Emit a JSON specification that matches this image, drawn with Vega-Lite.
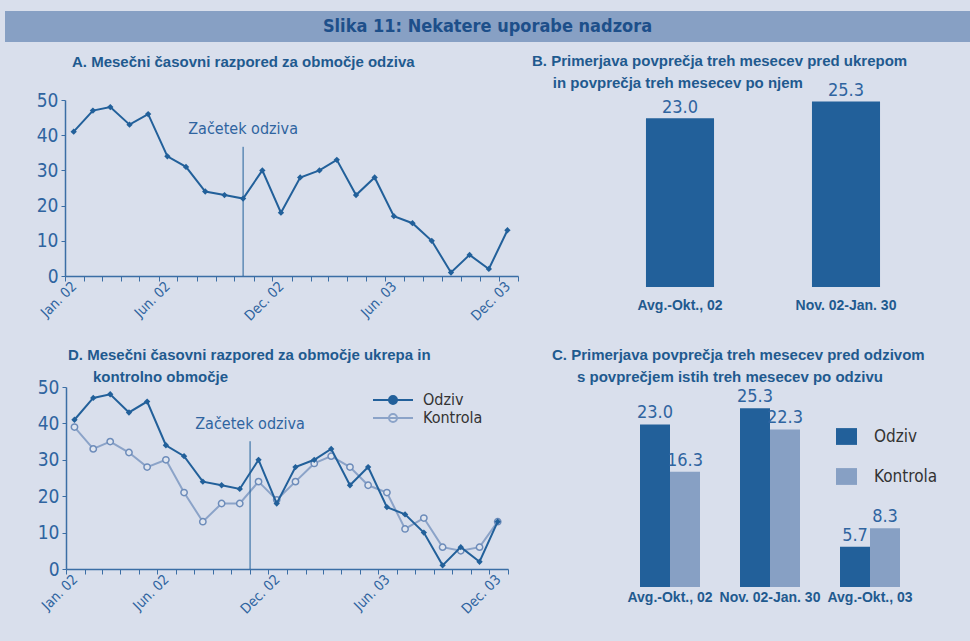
{
  "$schema": "https://vega.github.io/schema/vega-lite/v6.json",
  "background": "#d9dfec",
  "padding": {"left": 5, "top": 11, "right": 0, "bottom": 25},
  "datasets": {
    "ts": [
      {"month": "2002-01-15", "series": "Odziv", "value": 41},
      {"month": "2002-02-15", "series": "Odziv", "value": 47},
      {"month": "2002-03-15", "series": "Odziv", "value": 48},
      {"month": "2002-04-15", "series": "Odziv", "value": 43},
      {"month": "2002-05-15", "series": "Odziv", "value": 46},
      {"month": "2002-06-15", "series": "Odziv", "value": 34},
      {"month": "2002-07-15", "series": "Odziv", "value": 31},
      {"month": "2002-08-15", "series": "Odziv", "value": 24},
      {"month": "2002-09-15", "series": "Odziv", "value": 23},
      {"month": "2002-10-15", "series": "Odziv", "value": 22},
      {"month": "2002-11-15", "series": "Odziv", "value": 30},
      {"month": "2002-12-15", "series": "Odziv", "value": 18},
      {"month": "2003-01-15", "series": "Odziv", "value": 28},
      {"month": "2003-02-15", "series": "Odziv", "value": 30},
      {"month": "2003-03-15", "series": "Odziv", "value": 33},
      {"month": "2003-04-15", "series": "Odziv", "value": 23},
      {"month": "2003-05-15", "series": "Odziv", "value": 28},
      {"month": "2003-06-15", "series": "Odziv", "value": 17},
      {"month": "2003-07-15", "series": "Odziv", "value": 15},
      {"month": "2003-08-15", "series": "Odziv", "value": 10},
      {"month": "2003-09-15", "series": "Odziv", "value": 1},
      {"month": "2003-10-15", "series": "Odziv", "value": 6},
      {"month": "2003-11-15", "series": "Odziv", "value": 2},
      {"month": "2003-12-15", "series": "Odziv", "value": 13},
      {"month": "2002-01-15", "series": "Kontrola", "value": 39},
      {"month": "2002-02-15", "series": "Kontrola", "value": 33},
      {"month": "2002-03-15", "series": "Kontrola", "value": 35},
      {"month": "2002-04-15", "series": "Kontrola", "value": 32},
      {"month": "2002-05-15", "series": "Kontrola", "value": 28},
      {"month": "2002-06-15", "series": "Kontrola", "value": 30},
      {"month": "2002-07-15", "series": "Kontrola", "value": 21},
      {"month": "2002-08-15", "series": "Kontrola", "value": 13},
      {"month": "2002-09-15", "series": "Kontrola", "value": 18},
      {"month": "2002-10-15", "series": "Kontrola", "value": 18},
      {"month": "2002-11-15", "series": "Kontrola", "value": 24},
      {"month": "2002-12-15", "series": "Kontrola", "value": 19},
      {"month": "2003-01-15", "series": "Kontrola", "value": 24},
      {"month": "2003-02-15", "series": "Kontrola", "value": 29},
      {"month": "2003-03-15", "series": "Kontrola", "value": 31},
      {"month": "2003-04-15", "series": "Kontrola", "value": 28},
      {"month": "2003-05-15", "series": "Kontrola", "value": 23},
      {"month": "2003-06-15", "series": "Kontrola", "value": 21},
      {"month": "2003-07-15", "series": "Kontrola", "value": 11},
      {"month": "2003-08-15", "series": "Kontrola", "value": 14},
      {"month": "2003-09-15", "series": "Kontrola", "value": 6},
      {"month": "2003-10-15", "series": "Kontrola", "value": 5},
      {"month": "2003-11-15", "series": "Kontrola", "value": 6},
      {"month": "2003-12-15", "series": "Kontrola", "value": 13}
    ],
    "b": [
      {"period": "Avg.-Okt., 02", "value": 23.0},
      {"period": "Nov. 02-Jan. 30", "value": 25.3}
    ],
    "c": [
      {"period": "Avg.-Okt., 02", "series": "Odziv", "value": 23.0},
      {"period": "Avg.-Okt., 02", "series": "Kontrola", "value": 16.3},
      {"period": "Nov. 02-Jan. 30", "series": "Odziv", "value": 25.3},
      {"period": "Nov. 02-Jan. 30", "series": "Kontrola", "value": 22.3},
      {"period": "Avg.-Okt., 03", "series": "Odziv", "value": 5.7},
      {"period": "Avg.-Okt., 03", "series": "Kontrola", "value": 8.3}
    ]
  },
  "config": {
    "view": {"stroke": null},
    "axis": {
      "grid": false,
      "domainColor": "#3b6ea5",
      "tickColor": "#3b6ea5",
      "labelColor": "#2f64a0",
      "labelFont": "Liberation Sans Narrow, DejaVu Sans Condensed, Liberation Sans"
    },
    "title": {
      "anchor": "start",
      "frame": "group",
      "font": "Liberation Sans",
      "fontSize": 15,
      "fontWeight": "bold",
      "color": "#1f5a8f",
      "lineHeight": 22
    }
  },
  "spacing": 12,
  "columns": 1,
  "align": "none",
  "resolve": {
    "scale": {"color": "independent", "fill": "independent", "stroke": "independent"},
    "legend": {"color": "independent", "fill": "independent", "stroke": "independent"}
  },
  "concat": [
    {
      "width": 965,
      "height": 31,
      "view": {"fill": "#87a0c4", "stroke": null},
      "data": {"values": [{"t": "Slika 11: Nekatere uporabe nadzora"}]},
      "mark": {"type": "text", "font": "Liberation Sans Narrow, DejaVu Sans Condensed, Liberation Sans", "fontSize": 18, "fontWeight": "bold", "color": "#1d4f8a"},
      "encoding": {"text": {"field": "t"}}
    },
    {
      "spacing": 24,
      "resolve": {
        "scale": {"color": "independent", "fill": "independent", "stroke": "independent"},
        "legend": {"color": "independent", "fill": "independent", "stroke": "independent"}
      },
      "vconcat": [
        {
          "spacing": 0,
          "hconcat": [
            {
              "width": 513,
              "height": 176,
              "title": {"text": "A. Mesečni časovni razpored za območje odziva", "dx": 67, "offset": 21},
              "layer": [
                {
                  "data": {"name": "ts"},
                  "transform": [{"filter": "datum.series == 'Odziv'"}],
                  "encoding": {
                    "x": {"field": "month", "type": "temporal",
                      "scale": {"type": "utc", "range": [60, 513], "domain": [{"year": 2002, "month": 1, "date": 1, "utc": true}, {"year": 2004, "month": 1, "date": 1, "utc": true}]},
                      "axis": {"title": null, "tickCount": {"interval": "month", "step": 1},
                        "labelExpr": "indexof(['2002-01','2002-06','2002-12','2003-06','2003-12'], utcFormat(datum.value, '%Y-%m')) >= 0 ? utcFormat(datum.value, '%b. %y') : ''",
                        "labelAngle": -45, "labelAlign": "right", "labelBaseline": "middle", "labelOffset": 9,
                        "labelFontSize": 14, "labelOverlap": false, "labelFlush": false, "tickSize": 5, "labelPadding": 3, "domainWidth": 1.5}},
                    "y": {"field": "value", "type": "quantitative", "scale": {"domain": [0, 50], "nice": false},
                      "axis": {"title": null, "offset": -60, "values": [0, 10, 20, 30, 40, 50], "tickCount": 6, "labelOverlap": false, "labelFlush": false, "labelFontSize": 19, "tickSize": 4, "labelPadding": 3, "domainWidth": 1.5}}
                  },
                  "layer": [
                    {"mark": {"type": "line", "color": "#22609a", "strokeWidth": 2}},
                    {"mark": {"type": "point", "shape": "diamond", "filled": true, "color": "#22609a", "size": 40, "opacity": 1}}
                  ]
                },
                {
                  "data": {"values": [{}]},
                  "mark": {"type": "rule", "color": "#22609a", "strokeWidth": 1},
                  "encoding": {
                    "x": {"datum": {"year": 2002, "month": 10, "date": 15, "utc": true}, "type": "temporal",
                      "axis": {"title": null, "tickCount": {"interval": "month", "step": 1},
                        "labelExpr": "indexof(['2002-01','2002-06','2002-12','2003-06','2003-12'], utcFormat(datum.value, '%Y-%m')) >= 0 ? utcFormat(datum.value, '%b. %y') : ''",
                        "labelAngle": -45, "labelAlign": "right", "labelBaseline": "middle", "labelOffset": 9,
                        "labelFontSize": 14, "labelOverlap": false, "labelFlush": false, "tickSize": 5, "labelPadding": 3, "domainWidth": 1.5}},
                    "y": {"datum": 0,
                      "axis": {"title": null, "offset": -60, "values": [0, 10, 20, 30, 40, 50], "tickCount": 6, "labelOverlap": false, "labelFlush": false, "labelFontSize": 19, "tickSize": 4, "labelPadding": 3, "domainWidth": 1.5}},
                    "y2": {"datum": 36.7}
                  }
                },
                {
                  "data": {"values": [{}]},
                  "mark": {"type": "text", "font": "Liberation Sans Narrow, DejaVu Sans Condensed, Liberation Sans", "fontSize": 16, "color": "#2f64a0"},
                  "encoding": {
                    "x": {"datum": {"year": 2002, "month": 10, "date": 15, "utc": true}, "type": "temporal",
                      "axis": {"title": null, "tickCount": {"interval": "month", "step": 1},
                        "labelExpr": "indexof(['2002-01','2002-06','2002-12','2003-06','2003-12'], utcFormat(datum.value, '%Y-%m')) >= 0 ? utcFormat(datum.value, '%b. %y') : ''",
                        "labelAngle": -45, "labelAlign": "right", "labelBaseline": "middle", "labelOffset": 9,
                        "labelFontSize": 14, "labelOverlap": false, "labelFlush": false, "tickSize": 5, "labelPadding": 3, "domainWidth": 1.5}},
                    "y": {"datum": 41.7,
                      "axis": {"title": null, "offset": -60, "values": [0, 10, 20, 30, 40, 50], "tickCount": 6, "labelOverlap": false, "labelFlush": false, "labelFontSize": 19, "tickSize": 4, "labelPadding": 3, "domainWidth": 1.5}},
                    "text": {"value": "Začetek odziva"}
                  }
                }
              ]
            },
            {
              "width": 332,
              "height": 187,
              "title": {"text": ["B. Primerjava povprečja treh mesecev pred ukrepom", "\u200b\u00a0\u00a0\u00a0\u00a0\u00a0in povprečja treh mesecev po njem"], "dx": -65, "offset": -9},
              "data": {"name": "b"},
              "encoding": {
                "x": {"field": "period", "type": "nominal", "sort": null,
                  "scale": {"paddingInner": 0.59, "paddingOuter": 0.295},
                  "axis": {"title": null, "domain": false, "ticks": false, "labelAngle": 0, "labelFont": "Liberation Sans", "labelFontWeight": "bold", "labelFontSize": 14, "labelColor": "#1f5a8f", "labelPadding": 11, "labelOverlap": false}},
                "y": {"field": "value", "type": "quantitative", "scale": {"domain": [0, 25.5], "nice": false}, "axis": null}
              },
              "layer": [
                {"mark": {"type": "bar", "color": "#22609a"}},
                {"mark": {"type": "text", "baseline": "bottom", "dy": -1, "font": "Liberation Sans Narrow, DejaVu Sans Condensed, Liberation Sans", "fontSize": 18, "color": "#2f64a0"},
                  "encoding": {"text": {"field": "value", "type": "quantitative", "format": ".1f"}}}
              ]
            }
          ]
        },
        {
          "spacing": 30,
          "resolve": {
            "scale": {"color": "independent", "fill": "independent", "stroke": "independent"},
            "legend": {"color": "independent", "fill": "independent", "stroke": "independent"}
          },
          "hconcat": [
            {
              "width": 503,
              "height": 182,
              "title": {"text": ["D. Mesečni časovni razpored za območje ukrepa in", "\u200b\u00a0\u00a0\u00a0\u00a0\u00a0\u00a0kontrolno območje"], "dx": 63, "offset": -7},
              "layer": [
                {
                  "data": {"name": "ts"},
                  "encoding": {
                    "x": {"field": "month", "type": "temporal",
                      "scale": {"type": "utc", "range": [61, 503], "domain": [{"year": 2002, "month": 1, "date": 1, "utc": true}, {"year": 2004, "month": 1, "date": 1, "utc": true}]},
                      "axis": {"title": null, "tickCount": {"interval": "month", "step": 1},
                        "labelExpr": "indexof(['2002-01','2002-06','2002-12','2003-06','2003-12'], utcFormat(datum.value, '%Y-%m')) >= 0 ? utcFormat(datum.value, '%b. %y') : ''",
                        "labelAngle": -45, "labelAlign": "right", "labelBaseline": "middle", "labelOffset": 9,
                        "labelFontSize": 14, "labelOverlap": false, "labelFlush": false, "tickSize": 5, "labelPadding": 3, "domainWidth": 1.5}},
                    "y": {"field": "value", "type": "quantitative", "scale": {"domain": [0, 50], "nice": false},
                      "axis": {"title": null, "offset": -61, "values": [0, 10, 20, 30, 40, 50], "tickCount": 6, "labelOverlap": false, "labelFlush": false, "labelFontSize": 19, "tickSize": 4, "labelPadding": 3, "domainWidth": 1.5}}
                  },
                  "layer": [
                    {
                      "transform": [{"filter": "datum.series == 'Kontrola'"}],
                      "mark": {"type": "line", "strokeWidth": 2},
                      "encoding": {
                        "stroke": {"field": "series", "type": "nominal",
                          "scale": {"domain": ["Odziv", "Kontrola"], "range": ["#22609a", "#8ba3c8"]},
                          "legend": {"title": null, "orient": "none", "legendX": 380, "legendY": 5, "padding": 0,
                            "symbolType": "M-4,0H4M0.8,0A0.8,0.8,0,1,1,-0.8,0A0.8,0.8,0,1,1,0.8,0Z",
                            "symbolSize": 100, "symbolStrokeWidth": 2, "labelOffset": 22, "rowPadding": 2,
                            "labelFont": "Liberation Sans Narrow, DejaVu Sans Condensed, Liberation Sans", "labelFontSize": 16, "labelColor": "#333333"}}
                      }
                    },
                    {
                      "transform": [{"filter": "datum.series == 'Kontrola'"}],
                      "mark": {"type": "point", "shape": "circle", "filled": true, "size": 40, "opacity": 1, "stroke": "#6d8cba", "strokeWidth": 1.5},
                      "encoding": {
                        "fill": {"field": "series", "type": "nominal",
                          "scale": {"domain": ["Odziv", "Kontrola"], "range": ["#22609a", "#dfe5ef"]},
                          "legend": {"title": null, "orient": "none", "legendX": 380, "legendY": 5, "padding": 0,
                            "symbolType": "M-4,0H4M0.8,0A0.8,0.8,0,1,1,-0.8,0A0.8,0.8,0,1,1,0.8,0Z",
                            "symbolSize": 100, "symbolStrokeWidth": 2, "labelOffset": 22, "rowPadding": 2,
                            "labelFont": "Liberation Sans Narrow, DejaVu Sans Condensed, Liberation Sans", "labelFontSize": 16, "labelColor": "#333333"}}
                      }
                    },
                    {
                      "transform": [{"filter": "datum.series == 'Odziv'"}],
                      "mark": {"type": "line", "strokeWidth": 2},
                      "encoding": {"stroke": {"field": "series", "type": "nominal"}}
                    },
                    {
                      "transform": [{"filter": "datum.series == 'Odziv'"}],
                      "mark": {"type": "point", "shape": "diamond", "filled": true, "size": 40, "opacity": 1},
                      "encoding": {"fill": {"field": "series", "type": "nominal"}}
                    }
                  ]
                },
                {
                  "data": {"values": [{}]},
                  "mark": {"type": "rule", "color": "#22609a", "strokeWidth": 1},
                  "encoding": {
                    "x": {"datum": {"year": 2002, "month": 11, "date": 1, "utc": true}, "type": "temporal",
                      "axis": {"title": null, "tickCount": {"interval": "month", "step": 1},
                        "labelExpr": "indexof(['2002-01','2002-06','2002-12','2003-06','2003-12'], utcFormat(datum.value, '%Y-%m')) >= 0 ? utcFormat(datum.value, '%b. %y') : ''",
                        "labelAngle": -45, "labelAlign": "right", "labelBaseline": "middle", "labelOffset": 9,
                        "labelFontSize": 14, "labelOverlap": false, "labelFlush": false, "tickSize": 5, "labelPadding": 3, "domainWidth": 1.5}},
                    "y": {"datum": 0,
                      "axis": {"title": null, "offset": -61, "values": [0, 10, 20, 30, 40, 50], "tickCount": 6, "labelOverlap": false, "labelFlush": false, "labelFontSize": 19, "tickSize": 4, "labelPadding": 3, "domainWidth": 1.5}},
                    "y2": {"datum": 35.1}
                  }
                },
                {
                  "data": {"values": [{}]},
                  "mark": {"type": "text", "font": "Liberation Sans Narrow, DejaVu Sans Condensed, Liberation Sans", "fontSize": 16, "color": "#2f64a0"},
                  "encoding": {
                    "x": {"datum": {"year": 2002, "month": 11, "date": 1, "utc": true}, "type": "temporal",
                      "axis": {"title": null, "tickCount": {"interval": "month", "step": 1},
                        "labelExpr": "indexof(['2002-01','2002-06','2002-12','2003-06','2003-12'], utcFormat(datum.value, '%Y-%m')) >= 0 ? utcFormat(datum.value, '%b. %y') : ''",
                        "labelAngle": -45, "labelAlign": "right", "labelBaseline": "middle", "labelOffset": 9,
                        "labelFontSize": 14, "labelOverlap": false, "labelFlush": false, "tickSize": 5, "labelPadding": 3, "domainWidth": 1.5}},
                    "y": {"datum": 39.8,
                      "axis": {"title": null, "offset": -61, "values": [0, 10, 20, 30, 40, 50], "tickCount": 6, "labelOverlap": false, "labelFlush": false, "labelFontSize": 19, "tickSize": 4, "labelPadding": 3, "domainWidth": 1.5}},
                    "text": {"value": "Začetek odziva"}
                  }
                }
              ]
            },
            {
              "width": 300,
              "height": 200,
              "title": {"text": ["C. Primerjava povprečja treh mesecev pred odzivom", "\u200b\u00a0\u00a0\u00a0\u00a0\u00a0\u00a0s povprečjem istih treh mesecev po odzivu"], "dx": -68, "offset": 2},
              "data": {"name": "c"},
              "encoding": {
                "x": {"field": "period", "type": "nominal", "sort": null,
                  "scale": {"paddingInner": 0.4, "paddingOuter": 0.2},
                  "axis": {"title": null, "domain": false, "ticks": false, "labelAngle": 0, "labelFont": "Liberation Sans", "labelFontWeight": "bold", "labelFontSize": 14, "labelColor": "#1f5a8f", "labelPadding": 3, "labelOverlap": false}},
                "xOffset": {"field": "series", "type": "nominal", "sort": ["Odziv", "Kontrola"], "scale": {"paddingInner": 0}},
                "y": {"field": "value", "type": "quantitative", "scale": {"domain": [0, 28.3], "nice": false}, "axis": null}
              },
              "layer": [
                {
                  "mark": {"type": "bar"},
                  "encoding": {
                    "color": {"field": "series", "type": "nominal",
                      "scale": {"domain": ["Odziv", "Kontrola"], "range": ["#22609a", "#87a0c4"]},
                      "legend": {"title": null, "orient": "none", "legendX": 215, "legendY": 38, "padding": 0,
                        "symbolType": "M-1,-0.8H1V0.8H-1Z", "symbolSize": 441, "symbolOpacity": 1,
                        "labelOffset": 16, "rowPadding": 20,
                        "labelFont": "Liberation Sans Narrow, DejaVu Sans Condensed, Liberation Sans", "labelFontSize": 17, "labelColor": "#333333"}}
                  }
                },
                {
                  "mark": {"type": "text", "baseline": "bottom", "dy": -2, "font": "Liberation Sans Narrow, DejaVu Sans Condensed, Liberation Sans", "fontSize": 18, "color": "#2f64a0"},
                  "encoding": {"text": {"field": "value", "type": "quantitative", "format": ".1f"}}
                }
              ]
            }
          ]
        }
      ]
    }
  ]
}
